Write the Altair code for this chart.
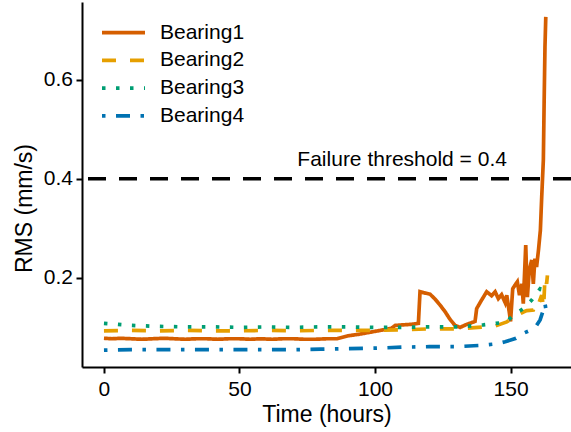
import altair as alt
import pandas as pd

names = ["Bearing1", "Bearing2", "Bearing3", "Bearing4"]
colors = ["#D55E00", "#E69F00", "#009E73", "#0072B2"]
dashes = [[1, 0], [14, 14], [3.5, 10.5], [3.5, 10.5, 14, 10.5]]

# Bearing1
t1 = [0, 3, 6, 10, 14, 18, 22, 26, 30, 34, 38, 42, 46, 50, 54, 58, 62, 66, 70, 74, 78, 82, 86, 88, 90,
      94, 98, 102, 106, 107.5, 110, 113, 116, 116.6, 118, 120.3, 122, 124, 125.8, 127.7, 129.5, 131.4,
      133.8, 136.9, 137.5, 139.3, 141.2, 143, 144.3, 145.5, 146.7, 148, 148.6, 149.6, 150, 150.8, 151.6,
      152.5, 153.3, 154.2, 154.7, 155.6, 156.2, 156.9, 157.8, 158.4, 159, 159.6, 160.3, 161, 161.5,
      162.1, 162.4, 162.7, 163]
v1 = [0.078, 0.077, 0.078, 0.077, 0.076, 0.077, 0.078, 0.077, 0.076, 0.077, 0.077, 0.076, 0.077, 0.077,
      0.076, 0.077, 0.076, 0.077, 0.077, 0.076, 0.076, 0.077, 0.077, 0.080, 0.083, 0.086, 0.090, 0.094,
      0.098, 0.104, 0.105, 0.106, 0.108, 0.172, 0.170, 0.167, 0.158, 0.145, 0.132, 0.116, 0.104, 0.100,
      0.106, 0.112, 0.138, 0.155, 0.172, 0.164, 0.172, 0.158, 0.166, 0.150, 0.165, 0.128, 0.112, 0.178,
      0.185, 0.192, 0.165, 0.188, 0.148, 0.266, 0.161, 0.215, 0.236, 0.188, 0.239, 0.222, 0.256, 0.296,
      0.364, 0.438, 0.559, 0.667, 0.727]

# Bearing2
t2 = [0, 10, 20, 30, 40, 50, 60, 70, 80, 90, 100, 110, 120, 130, 138, 144, 148.6, 151, 154.7, 156,
      158.4, 159, 159.6, 160.5, 161.5, 162.2, 162.7, 163.3, 163.6]
v2 = [0.093, 0.094, 0.093, 0.094, 0.093, 0.093, 0.094, 0.093, 0.094, 0.094, 0.094, 0.095, 0.097, 0.097,
      0.100, 0.102, 0.111, 0.120, 0.131, 0.134, 0.135, 0.145, 0.155, 0.150, 0.165, 0.140, 0.202, 0.188,
      0.205]

# Bearing3
t3 = [0, 5, 10, 20, 30, 40, 50, 60, 70, 80, 90, 100, 110, 120, 130, 140, 146, 148.6, 151, 154.7, 157.8,
      159.6, 160.9, 162, 162.7]
v3 = [0.108, 0.106, 0.104, 0.102, 0.101, 0.101, 0.100, 0.101, 0.100, 0.101, 0.101, 0.100, 0.100, 0.101,
      0.101, 0.105, 0.109, 0.112, 0.124, 0.138, 0.155, 0.168, 0.178, 0.175, 0.168]

# Bearing4
t4 = [0, 10, 20, 30, 40, 50, 60, 70, 80, 90, 100, 110, 120, 130, 140, 145, 148, 152, 154.7, 157.2,
      159.6, 160.9, 162.1, 162.7, 163.3]
v4 = [0.054, 0.055, 0.055, 0.055, 0.055, 0.055, 0.055, 0.055, 0.056, 0.057, 0.058, 0.060, 0.061, 0.061,
      0.064, 0.067, 0.071, 0.078, 0.088, 0.094, 0.104, 0.115, 0.135, 0.148, 0.128]

threshold = 0.4
label_text = "Failure threshold = 0.4"
label_time = 110
label_rms = 0.425

x_ticks = [0, 50, 100, 150]
y_ticks = [0.2, 0.4, 0.6]

FONT = "Liberation Sans"

rows = []
for name, ts, vs in zip(names, [t1, t2, t3, t4], [v1, v2, v3, v4]):
    for t, v in zip(ts, vs):
        rows.append({"bearing": name, "time": t, "rms": v})
df = pd.DataFrame(rows)

xscale = alt.Scale(domain=[-8.1, 172.3], nice=False, zero=False)
yscale = alt.Scale(domain=[0.02, 0.757], nice=False, zero=False)

x_enc = alt.X("time:Q", scale=xscale,
              axis=alt.Axis(values=x_ticks, title="Time (hours)", labelPadding=5,
                            titleY=54.7, titleBaseline="alphabetic"))
y_enc = alt.Y("rms:Q", scale=yscale,
              axis=alt.Axis(values=y_ticks, format=".1f", title="RMS (mm/s)", labelPadding=3.5,
                            titleX=-51, titleY=206, titleAngle=270, titleBaseline="alphabetic",
                            titleAlign="center"))

leg = alt.Legend(title=None, orient="none", legendX=18, legendY=18.7, symbolType="stroke",
                 symbolSize=1849, symbolStrokeWidth=3.7, labelFontSize=21, labelFont=FONT,
                 labelColor="black", clipHeight=24, rowPadding=3.7, labelOffset=13, padding=0,
                 symbolOffset=0)

lines = alt.Chart(df).mark_line(strokeWidth=3.7, clip=True).encode(
    x=x_enc,
    y=y_enc,
    color=alt.Color("bearing:N", scale=alt.Scale(domain=names, range=colors), legend=leg),
    strokeDash=alt.StrokeDash("bearing:N", scale=alt.Scale(domain=names, range=dashes), legend=leg),
)

thr = alt.Chart(pd.DataFrame({"rms": [threshold]})).mark_rule(
    color="black", strokeWidth=3.5, strokeDash=[18, 13]
).encode(y=alt.Y("rms:Q"))

txt = alt.Chart(pd.DataFrame({"time": [label_time], "rms": [label_rms], "label": [label_text]})).mark_text(
    fontSize=21, font=FONT, baseline="alphabetic", align="center", color="black"
).encode(x="time:Q", y="rms:Q", text="label:N")

chart = alt.layer(lines, thr, txt).properties(
    width=489, height=365,
    autosize=alt.AutoSizeParams(type="none"),
    padding={"left": 82, "top": 2, "right": 0, "bottom": 65},
    background="white",
).configure_axis(
    domainColor="black", domainWidth=2, tickColor="black", tickWidth=2, tickSize=6,
    labelFontSize=21, labelFont=FONT, labelColor="black",
    titleFontSize=23, titleFont=FONT, titleFontWeight="normal", titleColor="black",
    grid=False,
).configure_view(stroke=None)

chart.save("out.html", embed_options={"renderer": "svg", "actions": False})
